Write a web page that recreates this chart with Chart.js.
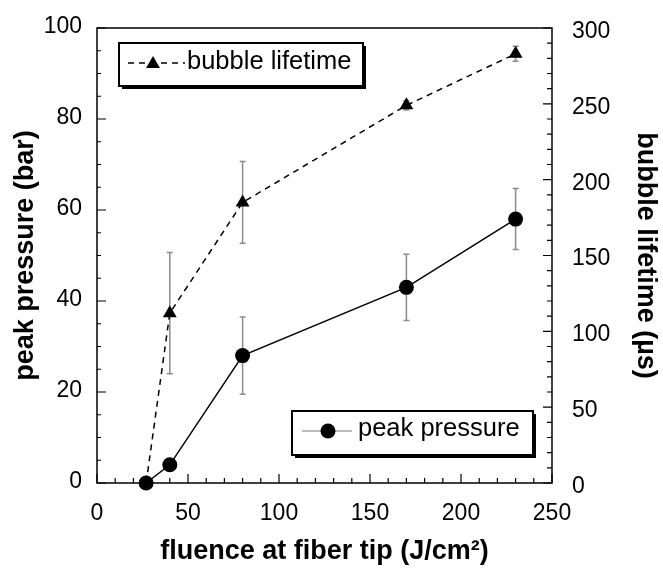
<!DOCTYPE html>
<html lang="en">
<head>
    <meta charset="UTF-8">
    <title>Peak pressure and bubble lifetime</title>
    <script src="https://cdn.jsdelivr.net/npm/chart.js"></script>
    <style>
        html, body { margin: 0; padding: 0; background: #fff; }
    </style>
</head>
<body>
    <canvas id="grafico" width="663" height="569"></canvas>

    <script>
        // fluence at fiber tip (J/cm2)
        const fluence = [27, 40, 80, 170, 230];
        // peak pressure (bar) and its error
        const peakPressure = [0, 4, 28, 43, 58];
        const peakPressureErr = [0, 0, 8.5, 7.3, 6.7];
        // bubble lifetime (us) and its error
        const bubbleLifetime = [0, 112, 185, 249, 283];
        const bubbleLifetimeErr = [0, 40, 27, 3, 5];

        const fontFamily = '"Liberation Sans", Arial, Helvetica, sans-serif';
        Chart.defaults.font.family = fontFamily;
        Chart.defaults.color = '#000';

        const errorBars = [peakPressureErr, bubbleLifetimeErr];

        // frame, inward ticks and error bars, under the lines
        const moldura = {
            id: 'moldura',
            beforeDatasetsDraw(chart) {
                const { ctx, chartArea: a, scales } = chart;
                ctx.save();
                ctx.strokeStyle = '#000';
                ctx.lineWidth = 1.5;
                ctx.strokeRect(a.left, a.top, a.right - a.left, a.bottom - a.top);

                ctx.lineWidth = 1.2;
                ctx.beginPath();
                for (let v = 0; v <= 250; v += 10) {
                    const px = scales.x.getPixelForValue(v);
                    const len = v % 50 === 0 ? 9 : 5;
                    ctx.moveTo(px, a.bottom);
                    ctx.lineTo(px, a.bottom - len);
                }
                for (let v = 0; v <= 100; v += 5) {
                    const py = scales.y.getPixelForValue(v);
                    const len = v % 20 === 0 ? 9 : 4;
                    ctx.moveTo(a.left, py);
                    ctx.lineTo(a.left + len, py);
                }
                for (let v = 0; v <= 300; v += 10) {
                    const py = scales.y2.getPixelForValue(v);
                    const len = v % 50 === 0 ? 9 : 5;
                    ctx.moveTo(a.right, py);
                    ctx.lineTo(a.right - len, py);
                }
                ctx.stroke();

                // error bars
                ctx.strokeStyle = '#8c8c8c';
                ctx.lineWidth = 1.5;
                chart.data.datasets.forEach((ds, i) => {
                    const yScale = scales[ds.yAxisID];
                    const err = errorBars[i];
                    ds.data.forEach((p, j) => {
                        if (!err[j]) return;
                        const px = scales.x.getPixelForValue(p.x);
                        const top = yScale.getPixelForValue(p.y + err[j]);
                        const bot = yScale.getPixelForValue(p.y - err[j]);
                        ctx.beginPath();
                        ctx.moveTo(px, top);
                        ctx.lineTo(px, bot);
                        ctx.moveTo(px - 3, top);
                        ctx.lineTo(px + 3, top);
                        ctx.moveTo(px - 3, bot);
                        ctx.lineTo(px + 3, bot);
                        ctx.stroke();
                    });
                });
                ctx.restore();
            }
        };

        function caixaLegenda(ctx, x, y, w, h) {
            ctx.fillStyle = '#000';
            ctx.fillRect(x + 3, y + 3, w, h);
            ctx.fillStyle = '#fff';
            ctx.fillRect(x, y, w, h);
            ctx.strokeStyle = '#000';
            ctx.lineWidth = 2;
            ctx.strokeRect(x, y, w, h);
        }

        function triangulo(ctx, cx, cy, r) {
            ctx.beginPath();
            ctx.moveTo(cx, cy - r);
            ctx.lineTo(cx + r * Math.sin(Math.PI / 3), cy + r / 2);
            ctx.lineTo(cx - r * Math.sin(Math.PI / 3), cy + r / 2);
            ctx.closePath();
            ctx.fill();
        }

        // the two boxed legends
        const legendas = {
            id: 'legendas',
            afterDraw(chart) {
                const { ctx, chartArea: a } = chart;
                ctx.save();
                ctx.font = '25.5px ' + fontFamily;
                ctx.textBaseline = 'middle';
                ctx.textAlign = 'left';

                // bubble lifetime, top left
                let x = a.left + 22, y = a.top + 15;
                caixaLegenda(ctx, x, y, 244, 43);
                ctx.strokeStyle = '#000';
                ctx.lineWidth = 1.5;
                ctx.setLineDash([6, 5]);
                ctx.beginPath();
                ctx.moveTo(x + 9, y + 20);
                ctx.lineTo(x + 66, y + 20);
                ctx.stroke();
                ctx.setLineDash([]);
                ctx.fillStyle = '#000';
                triangulo(ctx, x + 34, y + 21, 8);
                ctx.fillText('bubble lifetime', x + 68, y + 19);

                // peak pressure, bottom right
                x = a.right - 260;
                y = a.bottom - 72;
                caixaLegenda(ctx, x, y, 241, 44);
                ctx.strokeStyle = '#777';
                ctx.lineWidth = 1.2;
                ctx.beginPath();
                ctx.moveTo(x + 10, y + 20);
                ctx.lineTo(x + 60, y + 20);
                ctx.stroke();
                ctx.fillStyle = '#000';
                ctx.beginPath();
                ctx.arc(x + 36, y + 20, 7.5, 0, Math.PI * 2);
                ctx.fill();
                ctx.fillText('peak pressure', x + 66, y + 18);
                ctx.restore();
            }
        };

        // fixed axis sizes so the plot box lands at the same place every time
        function larguraFixa(w) {
            return s => { s.width = w; s.paddingTop = 0; s.paddingBottom = 0; };
        }

        const ctx = document.getElementById('grafico').getContext('2d');
        const grafico = new Chart(ctx, {
            type: 'line',
            data: {
                datasets: [{
                    label: 'peak pressure',
                    data: fluence.map((f, i) => ({ x: f, y: peakPressure[i] })),
                    yAxisID: 'y',
                    borderColor: '#000',
                    borderWidth: 1.5,
                    backgroundColor: '#000',
                    pointStyle: 'circle',
                    pointRadius: 7.5,
                    pointBorderWidth: 0,
                    tension: 0,
                    clip: false
                }, {
                    label: 'bubble lifetime',
                    data: fluence.map((f, i) => ({ x: f, y: bubbleLifetime[i] })),
                    yAxisID: 'y2',
                    borderColor: '#000',
                    borderWidth: 1.5,
                    borderDash: [6, 5],
                    backgroundColor: '#000',
                    pointStyle: 'triangle',
                    pointRadius: 8,
                    pointBorderWidth: 0,
                    tension: 0,
                    clip: false
                }]
            },
            options: {
                responsive: false,
                animation: false,
                layout: { padding: { top: 28, left: 0, right: 0, bottom: 0 } },
                plugins: {
                    legend: { display: false },
                    tooltip: { enabled: false }
                },
                scales: {
                    x: {
                        type: 'linear',
                        min: 0,
                        max: 250,
                        afterFit: s => { s.height = 86; s.paddingLeft = 0; s.paddingRight = 0; },
                        grid: { display: false, drawTicks: false },
                        border: { display: false },
                        ticks: { stepSize: 50, padding: 17, maxRotation: 0, font: { size: 23 } },
                        title: {
                            display: true,
                            text: 'fluence at fiber tip (J/cm²)',
                            font: { size: 27, weight: 'bold' },
                            padding: { top: 0, bottom: 1 }
                        }
                    },
                    y: {
                        position: 'left',
                        min: 0,
                        max: 100,
                        afterFit: larguraFixa(97),
                        grid: { display: false, drawTicks: false },
                        border: { display: false },
                        ticks: { stepSize: 20, padding: 15, labelOffset: -1, font: { size: 23 } },
                        title: {
                            display: true,
                            text: 'peak pressure (bar)',
                            font: { size: 27, weight: 'bold' },
                            padding: { top: 9, bottom: 0 }
                        }
                    },
                    y2: {
                        position: 'right',
                        min: 0,
                        max: 300,
                        afterFit: larguraFixa(111),
                        grid: { display: false, drawTicks: false },
                        border: { display: false },
                        ticks: { stepSize: 50, padding: 20, labelOffset: 3.5, font: { size: 23 } },
                        title: {
                            display: true,
                            text: 'bubble lifetime (µs)',
                            font: { size: 27, weight: 'bold' },
                            padding: { top: 1, bottom: 0 }
                        }
                    }
                }
            },
            plugins: [moldura, legendas]
        });
    </script>
</body>
</html>
